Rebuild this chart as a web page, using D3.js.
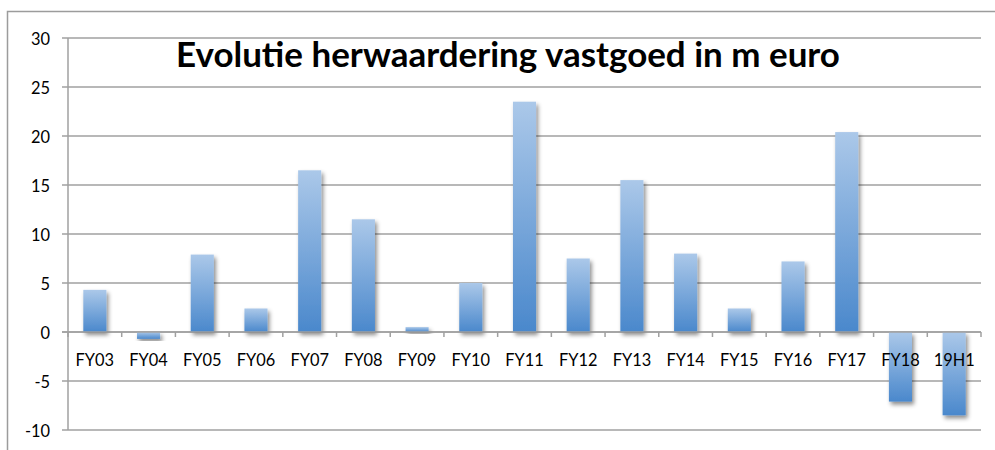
<!DOCTYPE html>
<html>
<head>
<meta charset="utf-8">
<script src="https://cdn.jsdelivr.net/npm/d3@7"></script>
<style>
  html, body { margin: 0; padding: 0; background: #fff; }
  svg { display: block; }
</style>
</head>
<body>
<svg id="chart" width="995" height="450"></svg>
<script>
const categories = ["FY03","FY04","FY05","FY06","FY07","FY08","FY09","FY10","FY11","FY12","FY13","FY14","FY15","FY16","FY17","FY18","19H1"];
const values = [4.3, -0.7, 7.9, 2.4, 16.5, 11.5, 0.5, 5.0, 23.5, 7.5, 15.5, 8.0, 2.4, 7.2, 20.4, -7.1, -8.5];
const yTicks = [-10, -5, 0, 5, 10, 15, 20, 25, 30];
const title = "Evolutie herwaardering vastgoed in m euro";

(function () {
const svg = d3.select("#chart");
const FONT = "Lato, 'Open Sans', sans-serif";
const mLeft = 68, mRight = 981, mTop = 38, mBottom = 430;

function fitSize(text, weight, targetW, base) {
  const t = svg.append("text").attr("font-family", FONT).attr("font-weight", weight)
    .attr("font-size", base).text(text);
  const w = t.node().getComputedTextLength();
  t.remove();
  return base * targetW / w;
}

const defs = svg.append("defs");
const grad = defs.append("linearGradient").attr("id", "barGrad")
  .attr("x1", 0).attr("y1", 0).attr("x2", 0).attr("y2", 1);
grad.append("stop").attr("offset", "0%").attr("stop-color", "#abc8e9");
grad.append("stop").attr("offset", "100%").attr("stop-color", "#4a88cc");
const f = defs.append("filter").attr("id", "shadow")
  .attr("x", "-50%").attr("y", "-20%").attr("width", "200%").attr("height", "150%");
f.append("feDropShadow").attr("dx", 2).attr("dy", 3).attr("stdDeviation", 2)
  .attr("flood-color", "#000").attr("flood-opacity", 0.45);

// outer frame
svg.append("path").attr("d", "M7.5,450 L7.5,11.5 L995,11.5")
  .attr("fill", "none").attr("stroke", "#9c9c9c").attr("stroke-width", 1.5);

const x = d3.scaleBand().domain(categories).range([mLeft, mRight])
  .paddingInner(0.57).paddingOuter(0.285);
const y = d3.scaleLinear().domain([-10, 30]).range([mBottom, mTop]);

// gridlines
svg.append("g").selectAll("line").data(yTicks).join("line")
  .attr("x1", mLeft - 6).attr("x2", mRight)
  .attr("y1", d => y(d)).attr("y2", d => y(d))
  .attr("stroke", "#a0a0a0").attr("stroke-width", 1.5);

// y axis line
svg.append("line").attr("x1", mLeft).attr("x2", mLeft).attr("y1", mTop).attr("y2", mBottom)
  .attr("stroke", "#a0a0a0").attr("stroke-width", 1.5);

// y labels
const labSize = fitSize("FY03", 400, 38.5, 16);
svg.append("g").selectAll("text").data(yTicks).join("text")
  .attr("x", 50).attr("y", d => y(d) + 1.5).attr("dy", "0.35em")
  .attr("text-anchor", "end").attr("font-family", FONT).attr("font-size", labSize)
  .attr("fill", "#000").text(d => d);

// title
const tSize = fitSize(title, 700, 664, 30);
svg.append("text").attr("x", 508).attr("y", 67).attr("text-anchor", "middle")
  .attr("font-family", FONT).attr("font-weight", 700).attr("font-size", tSize)
  .attr("fill", "#000").text(title);

// bars
svg.append("g").selectAll("rect").data(values).join("rect")
  .attr("x", (d, i) => x(categories[i]))
  .attr("width", x.bandwidth())
  .attr("y", d => y(Math.max(0, d)))
  .attr("height", d => Math.abs(y(d) - y(0)))
  .attr("fill", "url(#barGrad)")
  .attr("filter", "url(#shadow)");

// x axis line and ticks
const y0 = y(0);
svg.append("line").attr("x1", mLeft - 6).attr("x2", mRight).attr("y1", y0).attr("y2", y0)
  .attr("stroke", "#a0a0a0").attr("stroke-width", 1.5);
const step = x.step();
const tickXs = d3.range(categories.length + 1).map(i => mLeft + i * step);
svg.append("g").selectAll("line").data(tickXs).join("line")
  .attr("x1", d => d).attr("x2", d => d).attr("y1", y0).attr("y2", y0 + 5)
  .attr("stroke", "#a0a0a0").attr("stroke-width", 1.5);

// x labels
svg.append("g").selectAll("text").data(categories).join("text")
  .attr("x", d => x(d) + x.bandwidth() / 2).attr("y", 365.5)
  .attr("text-anchor", "middle").attr("font-family", FONT).attr("font-size", labSize)
  .attr("fill", "#000").text(d => d);
})();
</script>
</body>
</html>
